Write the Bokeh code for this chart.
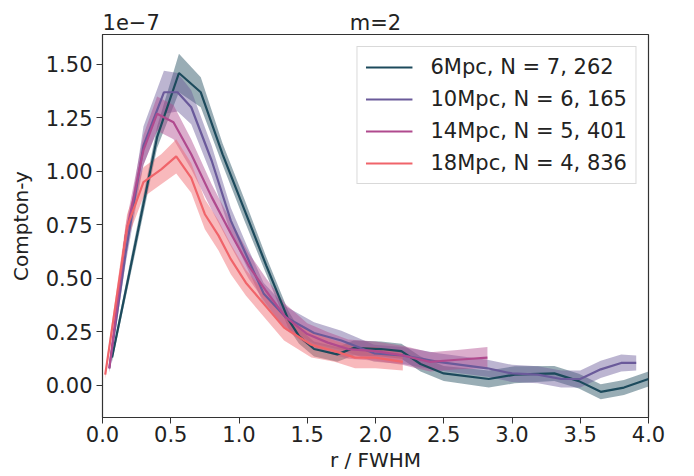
from bokeh.plotting import figure
from bokeh.models import FixedTicker, Legend, LegendItem, Range1d, CustomJSTickFormatter, LinearAxis
from bokeh.embed import file_html
from bokeh.resources import INLINE

# values in units of 1e-7
x6 = [0.07, 0.24, 0.40, 0.56, 0.72, 0.88, 1.04, 1.20, 1.36, 1.44, 1.55, 1.72, 1.84, 2.04, 2.19, 2.33, 2.50, 2.83, 3.02, 3.31, 3.49, 3.65, 3.82, 4.00]
y6 = [0.13, 0.66, 1.16, 1.46, 1.37, 1.08, 0.82, 0.56, 0.31, 0.23, 0.17, 0.145, 0.175, 0.17, 0.16, 0.10, 0.056, 0.03, 0.05, 0.056, 0.02, -0.03, -0.01, 0.03]
e6 = [0.02, 0.04, 0.05, 0.09, 0.07, 0.05, 0.05, 0.04, 0.04, 0.035, 0.035, 0.035, 0.035, 0.035, 0.035, 0.035, 0.035, 0.04, 0.04, 0.035, 0.035, 0.035, 0.035, 0.035]

x10 = [0.05, 0.17, 0.30, 0.45, 0.55, 0.65, 0.80, 0.94, 1.06, 1.18, 1.34, 1.55, 1.75, 1.99, 2.20, 2.46, 2.82, 3.00, 3.19, 3.36, 3.50, 3.65, 3.80, 3.91]
y10 = [0.08, 0.62, 1.12, 1.37, 1.37, 1.30, 1.05, 0.77, 0.60, 0.43, 0.32, 0.245, 0.21, 0.15, 0.14, 0.11, 0.08, 0.056, 0.05, 0.03, 0.03, 0.075, 0.105, 0.105]
e10 = [0.02, 0.05, 0.09, 0.10, 0.09, 0.08, 0.07, 0.06, 0.05, 0.05, 0.05, 0.05, 0.045, 0.04, 0.04, 0.04, 0.04, 0.04, 0.04, 0.04, 0.04, 0.04, 0.04, 0.035]

x14 = [0.05, 0.17, 0.30, 0.40, 0.52, 0.65, 0.80, 0.94, 1.07, 1.20, 1.34, 1.50, 1.65, 1.80, 2.00, 2.20, 2.40, 2.60, 2.82]
y14 = [0.08, 0.70, 1.10, 1.27, 1.23, 1.08, 0.88, 0.71, 0.56, 0.44, 0.32, 0.24, 0.20, 0.17, 0.16, 0.14, 0.11, 0.12, 0.13]
e14 = [0.02, 0.05, 0.07, 0.08, 0.08, 0.07, 0.06, 0.06, 0.06, 0.06, 0.06, 0.05, 0.05, 0.045, 0.045, 0.045, 0.045, 0.045, 0.05]

x18 = [0.02, 0.18, 0.30, 0.43, 0.54, 0.65, 0.75, 0.85, 0.94, 1.05, 1.21, 1.33, 1.53, 1.70, 1.85, 2.00, 2.20]
y18 = [0.05, 0.74, 0.95, 1.01, 1.07, 0.97, 0.80, 0.70, 0.59, 0.48, 0.36, 0.27, 0.19, 0.16, 0.13, 0.13, 0.11]
e18 = [0.02, 0.06, 0.07, 0.07, 0.08, 0.07, 0.07, 0.07, 0.07, 0.06, 0.06, 0.06, 0.06, 0.05, 0.05, 0.05, 0.04]

labels = ["6Mpc, N = 7, 262", "10Mpc, N = 6, 165", "14Mpc, N = 5, 401", "18Mpc, N = 4, 836"]
colors = ["#1c4a5c", "#6a5a9a", "#b04a8e", "#f0646a"]
x_ticks = [0.0, 0.5, 1.0, 1.5, 2.0, 2.5, 3.0, 3.5, 4.0]
y_ticks = [0.0, 0.25, 0.5, 0.75, 1.0, 1.25, 1.5]
title_text = "m=2"
offset_text = "1e\u22127"

FONT = "DejaVu Sans"
TXT = "#222222"

p = figure(width=694, height=476, output_backend="svg", toolbar_location=None, title=None,
           x_range=Range1d(0, 4.0), y_range=Range1d(-0.15, 1.64),
           min_border_left=102, min_border_right=46, min_border_top=34, min_border_bottom=59)

p.xgrid.visible = False
p.ygrid.visible = False
p.outline_line_color = "#333333"
p.outline_line_width = 1.2

for ax in (p.xaxis[0], p.yaxis[0]):
    ax.major_label_text_font = FONT
    ax.major_label_text_font_size = "21px"
    ax.major_label_text_color = TXT
    ax.axis_label_text_font = FONT
    ax.axis_label_text_font_size = "20px"
    ax.axis_label_text_font_style = "normal"
    ax.axis_label_text_color = TXT
    ax.minor_tick_line_color = None
    ax.major_tick_out = 6
    ax.major_tick_in = 0
    ax.major_label_standoff = 4
    ax.axis_line_color = "#333333"
    ax.major_tick_line_color = "#333333"

p.xaxis.ticker = FixedTicker(ticks=x_ticks)
p.yaxis.ticker = FixedTicker(ticks=y_ticks)
p.xaxis.formatter = CustomJSTickFormatter(code="return tick.toFixed(1);")
p.yaxis.formatter = CustomJSTickFormatter(code="return tick.toFixed(2);")
p.yaxis.axis_label = "Compton-y"
p.yaxis.axis_label_standoff = 10
p.xaxis.axis_label = "r / FWHM"
p.xaxis.major_label_standoff = 2
p.xaxis.axis_label_standoff = 3

# top row: offset text at the left and the panel title at the centre
top = LinearAxis(ticker=FixedTicker(ticks=[0.21, 2.0]),
                 formatter=CustomJSTickFormatter(args=dict(t=title_text, o=offset_text),
                                                 code="return tick < 1 ? o : t;"))
top.axis_line_color = None
top.major_tick_line_color = None
top.minor_tick_line_color = None
top.major_tick_out = 0
top.major_tick_in = 0
top.major_label_standoff = 0
top.major_label_text_font = FONT
top.major_label_text_font_size = "21px"
top.major_label_text_color = TXT
p.add_layout(top, "above")

series = [(x6, y6, e6), (x10, y10, e10), (x14, y14, e14), (x18, y18, e18)]
items = []
for (xs, ys, es), c in zip(series, colors):
    lo = [y - e for y, e in zip(ys, es)]
    hi = [y + e for y, e in zip(ys, es)]
    p.varea(x=xs, y1=lo, y2=hi, fill_color=c, fill_alpha=0.45)
for (xs, ys, es), c, lab in zip(series, colors, labels):
    r = p.line(xs, ys, line_color=c, line_width=2.2)
    items.append(LegendItem(label=lab, renderers=[r]))

legend = Legend(items=items, location="top_right")
legend.label_text_font = FONT
legend.label_text_font_size = "21px"
legend.label_text_color = TXT
legend.glyph_width = 47
legend.label_standoff = 18
legend.spacing = 8
legend.padding = 8
legend.margin = 12
legend.border_line_color = "#d9d9d9"
legend.border_line_alpha = 1.0
legend.background_fill_alpha = 0.8
p.add_layout(legend)

open("out.html", "w").write(file_html(p, INLINE))
